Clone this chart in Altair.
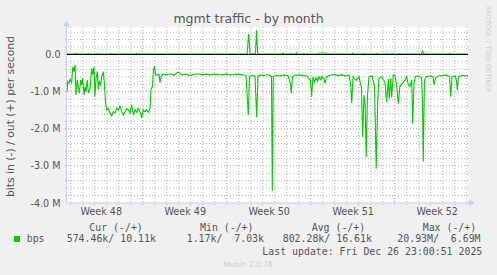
import altair as alt
import pandas as pd

# ---------------- data (days relative to Mon 1 Dec 2025 00:00, values in Mbit/s) ----------------
in_day = [
    -6.31, -6.25, -6.14, -6.06, -5.92, -5.83, -5.73, -5.64, -5.56, -5.45, -5.37,
    -5.28, -5.17, -5.08, -5.00, -4.89, -4.81, -4.73, -4.62, -4.53, -4.39, -4.25,
    -4.17, -4.06, -3.98, -3.89, -3.78, -3.70, -3.62, -3.50, -3.42, -3.28, -3.20,
    -3.08, -3.00, -2.87, -2.73, -2.58, -2.45, -2.31, -2.17, -2.03, -1.89, -1.75,
    -1.62, -1.48, -1.33, -1.20, -1.06, -0.92, -0.78, -0.64, -0.50, -0.37, -0.23,
    -0.08, 0.05, 0.19, 0.33, 0.47, 0.61,
    0.69, 0.80, 0.88, 0.97, 1.08, 1.22, 1.36, 1.44, 1.53, 1.67,
    1.94, 2.28, 2.61, 2.94, 3.28, 3.61, 3.94, 4.28, 4.61, 4.94, 5.28, 5.61, 5.94,
    6.28, 6.61, 6.94, 7.28, 7.61, 7.94, 8.28, 8.61,
    8.80, 8.90, 9.11, 9.36, 9.50, 9.61, 9.86, 10.11, 10.36, 10.61, 10.73, 10.80,
    10.88, 11.11, 11.44, 11.78, 12.11, 12.32, 12.38, 12.48, 12.69, 13.03, 13.36,
    13.69, 13.98, 14.08, 14.19, 14.32, 14.44, 14.57, 14.69, 14.82, 14.94, 15.11,
    15.19, 15.32, 15.61, 15.94, 16.28, 16.61, 16.94, 17.19, 17.33, 17.42, 17.53,
    17.78, 18.03, 18.23, 18.33, 18.44, 18.53, 18.63, 18.73, 18.86, 19.11, 19.32,
    19.46, 19.58, 19.69, 19.92, 20.19, 20.33, 20.47, 20.55, 20.67, 20.75, 20.88,
    21.03, 21.17, 21.30, 21.44, 21.58, 21.72, 21.86, 22.00, 22.13, 22.28, 22.42,
    22.50, 22.61, 22.72, 22.94, 23.23, 23.32, 23.38, 23.48, 23.61, 23.94, 24.19,
    24.28, 24.40, 24.61, 24.94, 25.28, 25.57, 25.67, 25.78, 26.03, 26.15, 26.22,
    26.32, 26.61, 26.94, 27.11,
]
in_mbps = [
    -1.00, -0.73, -0.77, -0.67, -0.76, -0.33, -0.46, -0.28, -1.09, -0.69, -0.87,
    -1.04, -0.69, -0.82, -0.64, -1.09, -0.87, -1.00, -0.69, -1.04, -0.91, -0.37,
    -0.55, -0.33, -1.13, -0.64, -0.46, -0.95, -0.73, -0.82, -0.60, -0.46, -0.77,
    -1.36, -1.49, -1.45, -1.58, -1.65, -1.54, -1.58, -1.45, -1.49, -1.40, -1.54,
    -1.63, -1.54, -1.45, -1.49, -1.58, -1.36, -1.63, -1.49, -1.56, -1.45, -1.54,
    -1.71, -1.49, -1.54, -1.49, -1.56, -1.45,
    -0.95, -0.87, -0.50, -0.31, -0.55, -0.55, -0.53, -0.76, -0.60, -0.53,
    -0.55, -0.52, -0.56, -0.47, -0.55, -0.53, -0.57, -0.54, -0.52, -0.55, -0.53, -0.55, -0.53,
    -0.54, -0.55, -0.53, -0.55, -0.54, -0.53, -0.55, -0.56,
    -1.63, -0.60, -0.56, -0.58, -1.70, -0.58, -0.55, -0.57, -0.54, -0.56, -0.60, -3.67,
    -0.60, -0.56, -0.58, -0.55, -0.57, -0.80, -1.05, -0.60, -0.56, -0.55, -0.57,
    -0.58, -0.70, -1.14, -0.60, -0.75, -0.62, -0.72, -0.60, -0.68, -0.60, -0.65,
    -0.78, -0.60, -0.56, -0.54, -0.57, -0.55, -0.58, -0.55, -0.80, -1.31, -0.60,
    -0.70, -0.60, -0.90, -2.22, -1.10, -1.30, -2.76, -1.10, -0.60, -0.58, -0.85,
    -3.07, -1.30, -0.64, -0.60, -0.75, -1.28, -0.66, -1.19, -0.64, -1.15, -0.55,
    -0.56, -0.85, -1.32, -0.85, -0.80, -0.75, -0.68, -0.60, -0.80, -0.87, -0.68,
    -1.86, -0.80, -0.60, -0.58, -0.62, -1.30, -2.89, -0.70, -0.60, -0.58, -0.60,
    -0.82, -0.64, -0.58, -0.57, -0.55, -0.60, -1.14, -0.60, -0.58, -0.70, -0.96,
    -0.60, -0.56, -0.58, -0.57,
]
out_day = [
    -6.31, -5.70, -5.62, -5.54, -4.62, -4.55, -4.48, -3.85, -3.78, -3.70,
    -2.75, -2.70, -2.62, -0.55, -0.50, -0.42, 8.70, 8.83, 8.95, 9.40, 9.48,
    9.58, 9.70, 11.62, 11.70, 11.80, 12.25, 12.32, 12.40, 12.75, 12.82, 12.90,
    13.35, 13.42, 13.50, 14.70, 14.78, 15.28, 15.36, 17.42, 17.50, 17.58,
    18.30, 18.38, 18.46, 19.42, 19.50, 19.58, 20.25, 20.33, 20.41, 20.80,
    20.88, 20.96, 21.36, 21.44, 21.52, 22.44, 22.52, 22.60, 23.22, 23.33,
    23.44, 25.50, 25.58, 25.66, 27.11,
]
out_mbps = [
    0.01, 0.01, 0.03, 0.01, 0.01, 0.03, 0.01, 0.01, 0.03, 0.01,
    0.01, 0.025, 0.01, 0.01, 0.03, 0.01, 0.02, 0.55, 0.02, 0.02, 0.65,
    0.04, 0.01, 0.01, 0.04, 0.01, 0.01, 0.03, 0.01, 0.01, 0.04, 0.01,
    0.01, 0.03, 0.01, 0.01, 0.04, 0.04, 0.01, 0.01, 0.04, 0.01,
    0.01, 0.03, 0.01, 0.01, 0.03, 0.01, 0.01, 0.03, 0.01, 0.01,
    0.025, 0.01, 0.01, 0.03, 0.01, 0.01, 0.025, 0.01, 0.01, 0.09,
    0.01, 0.01, 0.03, 0.01, 0.01,
]
assert len(in_day) == len(in_mbps) and len(out_day) == len(out_mbps)

week_pos = [-3.5, 3.5, 10.5, 17.5, 24.5]
week_labels = ["Week 48", "Week 49", "Week 50", "Week 51", "Week 52"]
y_tick_vals = [0, -1, -2, -3, -4]
y_tick_labels = ["0.0", "-1.0 M", "-2.0 M", "-3.0 M", "-4.0 M"]
major_day = [0, 7, 14, 21]
minor_day = [d for d in range(-6, 28) if d not in major_day]
major_m = [-1, -2, -3]
minor_m = [0.6, 0.4, 0.2, -0.2, -0.4, -0.6, -0.8, -1.2, -1.4, -1.6, -1.8,
           -2.2, -2.4, -2.6, -2.8, -3.2, -3.4, -3.6, -3.8]

title_text = "mgmt traffic - by month"
y_title = "bits in (-) / out (+) per second"
legend_headers = ["Cur (-/+)", "Min (-/+)", "Avg (-/+)", "Max (-/+)"]
legend_values = ["574.46k/ 10.11k", "1.17k/  7.03k", "802.28k/ 16.61k", "20.93M/  6.69M"]
series_name = "bps"
last_update = "Last update: Fri Dec 26 23:00:51 2025"
version_text = "Munin 2.0.76"
side_text = "RRDTOOL / TOBI OETIKER"

# ---------------- styling ----------------
W, H = 401, 176
GREEN = "#00cc00"
FG = "#555555"
AXIS_C = "#c6cdf5"
GRID_C = "#b4b4b4"
MGRID_C = "#e48888"
SANS = "DejaVu Sans"
MONO = "DejaVu Sans Mono"

xs = alt.Scale(domain=[-6.31, 27.11], nice=False, zero=False)
ys = alt.Scale(domain=[-4.0, 0.74], nice=False, zero=False)


def chain(vals, labels):
    return " : ".join(f"datum.value == {v} ? '{l}'" for v, l in zip(vals, labels)) + " : ''"


def nb(s):
    return s.replace(" ", "\u00a0")


one = pd.DataFrame({"k": [0]})
in_df = pd.DataFrame({"d": in_day, "v": in_mbps})

# invisible first layer carrying the axes
axes_layer = alt.Chart(in_df).mark_line(opacity=0).encode(
    x=alt.X("d:Q", scale=xs, axis=alt.Axis(
        values=week_pos, labelExpr=chain(week_pos, week_labels), grid=False, ticks=False,
        domain=False, title=None, labelFont=SANS, labelFontSize=9.6,
        labelColor=FG, labelPadding=3, labelFlush=False, labelOverlap=False)),
    y=alt.Y("v:Q", scale=ys, axis=alt.Axis(
        values=y_tick_vals, labelExpr=chain(y_tick_vals, y_tick_labels), grid=False,
        ticks=False, domain=False, title=y_title, titleFont=SANS,
        titleFontSize=10.8, titleFontWeight="normal", titleColor=FG, titleX=-57,
        titleY=H / 2 + 1, titleAngle=-90, titleAlign="center", titleBaseline="middle",
        labelFont=SANS, labelFontSize=9.6, labelColor=FG, labelPadding=7,
        labelFlush=False, labelOverlap=False)),
)

grid_minor_x = alt.Chart(pd.DataFrame({"d": minor_day})).mark_rule(
    color=GRID_C, strokeDash=[1, 2], strokeWidth=1
).encode(x=alt.X("d:Q", scale=xs), y=alt.value(0), y2=alt.value(H + 2))
grid_major_x = alt.Chart(pd.DataFrame({"d": major_day})).mark_rule(
    color=MGRID_C, strokeDash=[1, 2], strokeWidth=1
).encode(x=alt.X("d:Q", scale=xs), y=alt.value(0), y2=alt.value(H + 2))
grid_minor_y = alt.Chart(pd.DataFrame({"v": minor_m})).mark_rule(
    color=GRID_C, strokeDash=[1, 2], strokeWidth=1
).encode(y=alt.Y("v:Q", scale=ys), x=alt.value(-2), x2=alt.value(W + 2))
grid_major_y = alt.Chart(pd.DataFrame({"v": major_m})).mark_rule(
    color=MGRID_C, strokeDash=[1, 2], strokeWidth=1
).encode(y=alt.Y("v:Q", scale=ys), x=alt.value(-2), x2=alt.value(W + 2))

out_line = alt.Chart(pd.DataFrame({"d": out_day, "v": out_mbps})).mark_line(
    color=GREEN, strokeWidth=1.1
).encode(x=alt.X("d:Q", scale=xs), y=alt.Y("v:Q", scale=ys))

in_line = alt.Chart(in_df).mark_line(color=GREEN, strokeWidth=1.1).encode(
    x=alt.X("d:Q", scale=xs), y=alt.Y("v:Q", scale=ys)
)

zero_rule = alt.Chart(pd.DataFrame({"v": [0]})).mark_rule(color="#000000", strokeWidth=1).encode(
    y=alt.Y("v:Q", scale=ys), x=alt.value(0), x2=alt.value(W)
)

axis_left = alt.Chart(one).mark_rule(color=AXIS_C, strokeWidth=1).encode(
    x=alt.value(-0.5), y=alt.value(H), y2=alt.value(-3)
)
axis_bottom = alt.Chart(one).mark_rule(color=AXIS_C, strokeWidth=1).encode(
    y=alt.value(H), x=alt.value(0), x2=alt.value(W + 2)
)
arrow_up = alt.Chart(one).mark_point(shape="triangle-up", filled=True, color=AXIS_C, size=40, opacity=1).encode(
    x=alt.value(-0.5), y=alt.value(-3.5)
)
arrow_right = alt.Chart(one).mark_point(shape="triangle-right", filled=True, color=AXIS_C, size=40, opacity=1).encode(
    x=alt.value(W + 4), y=alt.value(H)
)


def txt(s, x, y, size=9.9, font=MONO, color=FG, align="left", angle=0, baseline="alphabetic"):
    return alt.Chart(one).mark_text(
        text=nb(s), font=font, fontSize=size, color=color, align=align, angle=angle, baseline=baseline
    ).encode(x=alt.value(x), y=alt.value(y))


texts = [
    txt(title_text, 181.5, -4.5, size=12.5, font=SANS, align="center"),
    txt(side_text, 421, 22, size=6.8, font=SANS, color="#cccccc", align="center", angle=90, baseline="middle"),
    txt(version_text, 181, 239.7, size=7.6, font=SANS, color="#cccccc", align="center"),
]
head_x = [22.3, 133, 244.7, 355.7]
val_x = [-0.3, 119.7, 215.7, 330.3]
for h, hx in zip(legend_headers, head_x):
    texts.append(txt(h, hx, 203.7))
for v, vx in zip(legend_values, val_x):
    texts.append(txt(v, vx, 215.3))
texts.append(txt(series_name, -40.3, 215.3))
texts.append(txt(last_update, 415.3, 228, align="right"))

legend_box = alt.Chart(one).mark_rect(color=GREEN).encode(
    x=alt.value(-53), x2=alt.value(-47), y=alt.value(209), y2=alt.value(215)
)

chart = alt.layer(
    axes_layer,
    grid_minor_x, grid_major_x, grid_minor_y, grid_major_y,
    out_line, zero_rule, in_line,
    axis_left, axis_bottom, arrow_up, arrow_right,
    legend_box, *texts,
).properties(
    width=W, height=H,
    padding={"left": 67, "top": 27, "right": 29, "bottom": 72},
    autosize=alt.AutoSizeParams(type="none"),
    background="#f0f0f0",
).configure_view(fill="white", stroke=None)

chart.save("out.html", embed_options={"renderer": "svg", "actions": False})
